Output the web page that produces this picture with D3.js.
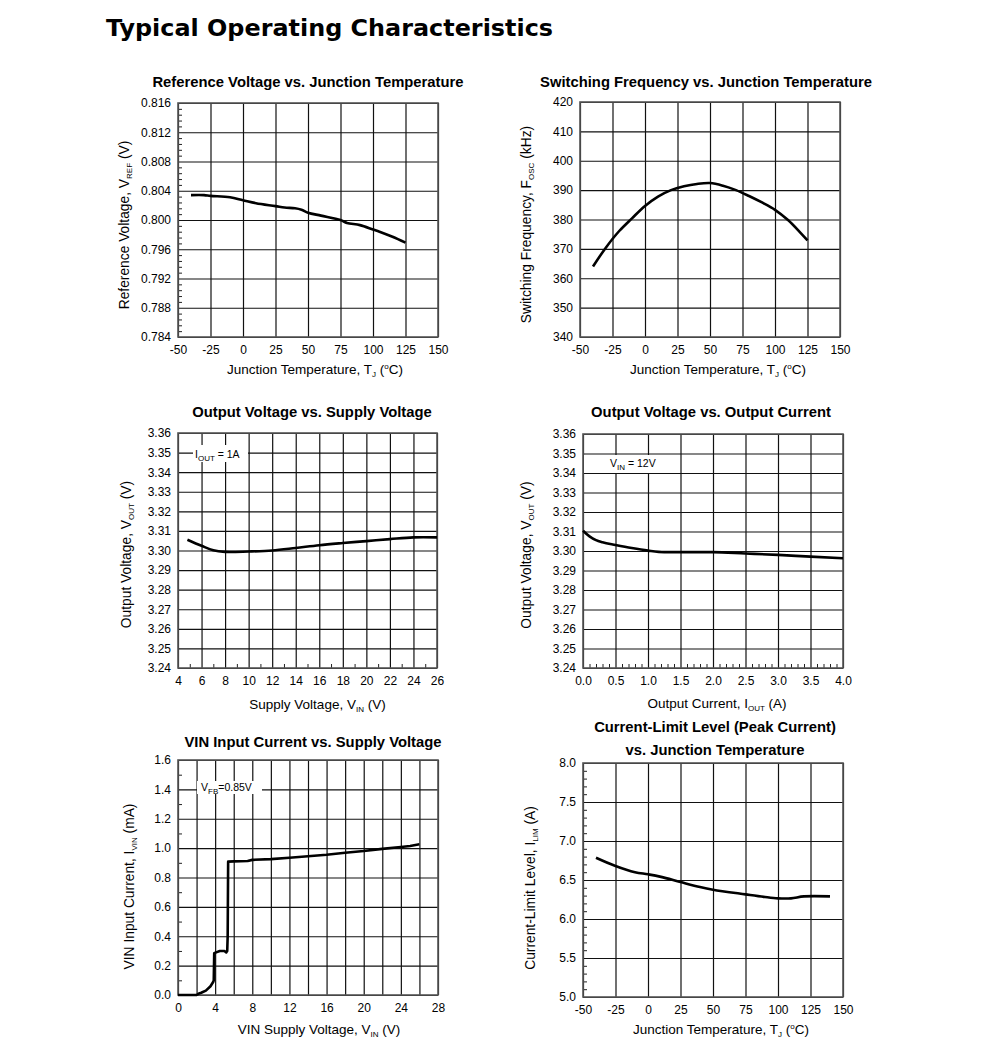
<!DOCTYPE html>
<html>
<head>
<meta charset="utf-8">
<script src="https://cdn.jsdelivr.net/npm/d3@7"></script>
<style>
  html, body { margin: 0; padding: 0; background: #fff; }
  svg { display: block; }
  text { font-family: "Liberation Sans", Arial, sans-serif; fill: #000; }
</style>
</head>
<body>
<svg id="chart" width="991" height="1051"></svg>
<script>
// ---------------- DATA ----------------
const tempTicks = [-50, -25, 0, 25, 50, 75, 100, 125, 150];

// Panel 1: Reference voltage vs junction temperature
const refTemp = [-40, -30, -25, -10, 0, 10, 25, 32, 40, 45, 50, 60, 75, 80, 90, 100, 105, 115, 125];
const refVolt = [0.8034, 0.8034, 0.8033, 0.8031, 0.8027, 0.8023, 0.8019, 0.8017, 0.8016, 0.8014, 0.8010, 0.8006, 0.8000, 0.7996, 0.7993, 0.7987, 0.7984, 0.7977, 0.7969];
const refVTicks = [0.784, 0.788, 0.792, 0.796, 0.800, 0.804, 0.808, 0.812, 0.816];

// Panel 2: Switching frequency vs junction temperature
const fsTemp = [-40, -30, -20, -10, 0, 10, 20, 30, 40, 50, 60, 70, 80, 90, 100, 110, 120, 125];
const fsFreq = [364.0, 370.5, 376.0, 380.4, 384.6, 387.8, 390.0, 391.3, 392.1, 392.4, 391.5, 390.0, 388.0, 385.8, 383.3, 379.8, 375.3, 372.9];
const fsTicks = [340, 350, 360, 370, 380, 390, 400, 410, 420];

// Panel 3: Output voltage vs supply voltage
const vsVin = [4.8, 6, 7, 8, 10, 12, 14, 16, 18, 20, 22, 24, 26];
const vsVout = [3.3055, 3.3024, 3.3001, 3.2993, 3.2995, 3.3000, 3.3013, 3.3027, 3.3038, 3.3048, 3.3058, 3.3067, 3.3067];
const vinTicks = [4, 6, 8, 10, 12, 14, 16, 18, 20, 22, 24, 26];
const voutTicks = [3.24, 3.25, 3.26, 3.27, 3.28, 3.29, 3.30, 3.31, 3.32, 3.33, 3.34, 3.35, 3.36];

// Panel 4: Output voltage vs output current
const ocIout = [0, 0.1, 0.2, 0.3, 0.5, 0.75, 1.0, 1.25, 1.5, 2.0, 2.5, 3.0, 3.5, 4.0];
const ocVout = [3.3104, 3.3075, 3.3056, 3.3045, 3.3031, 3.3015, 3.3002, 3.2994, 3.2994, 3.2994, 3.2987, 3.2980, 3.2971, 3.2963];
const ioutTicks = [0, 0.5, 1.0, 1.5, 2.0, 2.5, 3.0, 3.5, 4.0];

// Panel 5: VIN input current vs supply voltage
const icVin = [0, 2.0, 2.2, 2.5, 3.0, 3.5, 3.8, 3.85, 3.9, 4.1, 4.5, 5.0, 5.2, 5.3, 5.35, 5.4, 6, 7.5, 8, 10, 12, 14, 16, 18, 20, 22, 24, 25, 26];
const icIin = [0, 0, 0.008, 0.015, 0.03, 0.06, 0.09, 0.10, 0.284, 0.29, 0.30, 0.30, 0.29, 0.30, 0.40, 0.908, 0.91, 0.912, 0.92, 0.925, 0.935, 0.945, 0.955, 0.968, 0.98, 0.995, 1.008, 1.015, 1.026];
const icGridX = [0, 2, 4, 6, 8, 10, 12, 14, 16, 18, 20, 22, 24, 26, 28];
const icLabelX = [0, 4, 8, 12, 16, 20, 24, 28];
const icTicksY = [0, 0.2, 0.4, 0.6, 0.8, 1.0, 1.2, 1.4, 1.6];

// Panel 6: Current-limit level vs junction temperature
const clTemp = [-40, -25, -10, 0, 10, 25, 40, 50, 75, 90, 100, 110, 120, 140];
const clIlim = [6.786, 6.68, 6.60, 6.573, 6.54, 6.474, 6.41, 6.376, 6.316, 6.282, 6.265, 6.265, 6.29, 6.29];
const clTicks = [5.0, 5.5, 6.0, 6.5, 7.0, 7.5, 8.0];

// ---------------- DRAW ----------------
const svg = d3.select("#chart");

svg.append("text")
  .attr("x", 106).attr("y", 36)
  .attr("textLength", 447).attr("lengthAdjust", "spacingAndGlyphs")
  .style("font-family", "'DejaVu Sans', Verdana, sans-serif")
  .style("font-weight", "bold").style("font-size", "23px")
  .text("Typical Operating Characteristics");

// plain hyphen-minus like the original
const fmt = s => { const f = d3.format(s); return v => f(v).replace("\u2212", "-"); };

// helper to write text with subscript / superscript parts
function richText(sel, parts) {
  parts.forEach(p => {
    const t = sel.append("tspan").text(p.t);
    if (p.sub) t.attr("dy", 3).style("font-size", "8px");
    if (p.sup) t.attr("dy", -5).style("font-size", "8px");
    if (p.back) t.attr("dy", p.back);
  });
}

function panel(cfg) {
  const g = svg.append("g");
  const x = d3.scaleLinear().domain(cfg.xDomain).range([cfg.x0, cfg.x1]);
  const y = d3.scaleLinear().domain(cfg.yDomain).range([cfg.y1, cfg.y0]);
  const w = cfg.x1 - cfg.x0, h = cfg.y1 - cfg.y0;

  // gridlines
  g.append("g").attr("transform", `translate(0,${cfg.y1})`)
    .call(d3.axisBottom(x).tickValues(cfg.xGrid).tickSize(-h).tickFormat(""))
    .call(a => a.select(".domain").remove())
    .call(a => a.selectAll("line").attr("stroke", "#111").attr("stroke-width", 1.2));
  g.append("g").attr("transform", `translate(${cfg.x0},0)`)
    .call(d3.axisLeft(y).tickValues(cfg.yGrid).tickSize(-w).tickFormat(""))
    .call(a => a.select(".domain").remove())
    .call(a => a.selectAll("line").attr("stroke", "#111").attr("stroke-width", 1.2));

  // minor ticks
  if (cfg.yMinor) {
    g.append("g").attr("transform", `translate(${cfg.x0},0)`)
      .call(d3.axisRight(y).tickValues(cfg.yMinor).tickSize(4).tickFormat(""))
      .call(a => a.select(".domain").remove())
      .call(a => a.selectAll("line").attr("stroke", "#222"));
  }
  if (cfg.xMinor) {
    g.append("g").attr("transform", `translate(0,${cfg.y1})`)
      .call(d3.axisTop(x).tickValues(cfg.xMinor).tickSize(4).tickFormat(""))
      .call(a => a.select(".domain").remove())
      .call(a => a.selectAll("line").attr("stroke", "#222"));
  }

  // frame
  g.append("rect").attr("x", cfg.x0).attr("y", cfg.y0).attr("width", w).attr("height", h)
    .attr("fill", "none").attr("stroke", "#555").attr("stroke-width", 1.6);

  // annotation box
  if (cfg.note) {
    const n = cfg.note;
    g.append("rect").attr("x", n.bx).attr("y", n.by).attr("width", n.bw).attr("height", n.bh).attr("fill", "#fff");
    const t = g.append("text").attr("x", n.tx).attr("y", n.ty).style("font-size", "10.5px");
    richText(t, n.parts);
  }

  // tick labels
  g.append("g").attr("transform", `translate(0,${cfg.y1})`)
    .call(d3.axisBottom(x).tickValues(cfg.xLabels).tickSize(0).tickPadding(8).tickFormat(cfg.xFmt))
    .call(a => a.select(".domain").remove())
    .call(a => a.selectAll("text").style("font-size", "12px").style("font-family", "'Liberation Sans', Arial, sans-serif").attr("fill", "#000"));
  g.append("g").attr("transform", `translate(${cfg.x0},0)`)
    .call(d3.axisLeft(y).tickValues(cfg.yLabels).tickSize(0).tickPadding(7).tickFormat(cfg.yFmt))
    .call(a => a.select(".domain").remove())
    .call(a => a.selectAll("text").style("font-size", "12px").style("font-family", "'Liberation Sans', Arial, sans-serif").attr("fill", "#000"));

  // data line
  const pts = cfg.xs.map((v, i) => [v, cfg.ys[i]]);
  const line = d3.line().x(d => x(d[0])).y(d => y(d[1]));
  if (cfg.curve) line.curve(cfg.curve);
  g.append("path").datum(pts).attr("d", line)
    .attr("fill", "none").attr("stroke", "#000").attr("stroke-width", 2.6)
    .attr("stroke-linejoin", "round");

  // titles
  cfg.title.forEach(tt => {
    g.append("text").attr("x", tt.x).attr("y", tt.y).attr("text-anchor", "middle")
      .style("font-weight", "bold").style("font-size", "14.8px").text(tt.t);
  });
  const xt = g.append("text").attr("x", (cfg.x0 + cfg.x1) / 2 + cfg.xTitleDx).attr("y", cfg.y1 + cfg.xTitleDy)
    .attr("text-anchor", "middle").style("font-size", "13.5px");
  richText(xt, cfg.xTitle);
  const yt = g.append("text")
    .attr("transform", `translate(${cfg.yTitleX},${(cfg.y0 + cfg.y1) / 2 + cfg.yTitleDy}) rotate(-90)`)
    .attr("text-anchor", "middle").style("font-size", "13.8px");
  richText(yt, cfg.yTitle);
}

function minorBetween(ticks, n) {
  const out = [];
  for (let i = 0; i < ticks.length - 1; i++) {
    const a = ticks[i], b = ticks[i + 1];
    for (let k = 1; k < n; k++) out.push(a + (b - a) * k / n);
  }
  return out;
}

const tjTitle = [{t: "Junction Temperature, T"}, {t: "J", sub: true}, {t: " (", back: -3}, {t: "o", sup: true}, {t: "C)", back: 5}];

panel({
  x0: 178, x1: 438, y0: 103, y1: 337,
  xDomain: [-50, 150], yDomain: [0.784, 0.816],
  xGrid: tempTicks, yGrid: refVTicks, xLabels: tempTicks, yLabels: refVTicks,
  yMinor: minorBetween(refVTicks, 5),
  xFmt: fmt("d"), yFmt: fmt(".3f"),
  xs: refTemp, ys: refVolt, curve: d3.curveCatmullRom,
  title: [{t: "Reference Voltage vs. Junction Temperature", x: 308, y: 87}],
  xTitle: tjTitle, xTitleDy: 37, xTitleDx: 7,
  yTitle: [{t: "Reference Voltage, V"}, {t: "REF", sub: true}, {t: " (V)", back: -3}], yTitleX: 129, yTitleDy: 5
});

panel({
  x0: 580, x1: 840, y0: 102, y1: 337,
  xDomain: [-50, 150], yDomain: [340, 420],
  xGrid: tempTicks, yGrid: fsTicks, xLabels: tempTicks, yLabels: fsTicks,
  xFmt: fmt("d"), yFmt: fmt("d"),
  xs: fsTemp, ys: fsFreq, curve: d3.curveCatmullRom,
  title: [{t: "Switching Frequency vs. Junction Temperature", x: 706, y: 87}],
  xTitle: tjTitle, xTitleDy: 37, xTitleDx: 8,
  yTitle: [{t: "Switching Frequency, F"}, {t: "OSC", sub: true}, {t: "  (kHz)", back: -3}], yTitleX: 531, yTitleDy: 5
});

panel({
  x0: 178, x1: 437, y0: 433, y1: 668,
  xDomain: [4, 26], yDomain: [3.24, 3.36],
  xGrid: vinTicks, yGrid: voutTicks, xLabels: vinTicks, yLabels: voutTicks,
  xMinor: minorBetween(vinTicks, 2),
  xFmt: fmt("d"), yFmt: fmt(".2f"),
  xs: vsVin, ys: vsVout, curve: d3.curveCatmullRom,
  note: {bx: 193, by: 445, bw: 55, bh: 17, tx: 195, ty: 458,
         parts: [{t: "I"}, {t: "OUT", sub: true}, {t: " = 1A", back: -3}]},
  title: [{t: "Output Voltage vs. Supply Voltage", x: 312, y: 417}],
  xTitle: [{t: "Supply Voltage, V"}, {t: "IN", sub: true}, {t: " (V)", back: -3}], xTitleDy: 41, xTitleDx: 10,
  yTitle: [{t: "Output Voltage, V"}, {t: "OUT", sub: true}, {t: " (V)", back: -3}], yTitleX: 131, yTitleDy: 4
});

panel({
  x0: 583, x1: 843, y0: 434, y1: 668,
  xDomain: [0, 4], yDomain: [3.24, 3.36],
  xGrid: ioutTicks, yGrid: voutTicks, xLabels: ioutTicks, yLabels: voutTicks,
  xMinor: minorBetween(ioutTicks, 5),
  xFmt: fmt(".1f"), yFmt: fmt(".2f"),
  xs: ocIout, ys: ocVout, curve: d3.curveMonotoneX,
  note: {bx: 584, by: 455, bw: 94, bh: 18, tx: 610, ty: 467,
         parts: [{t: "V"}, {t: "IN", sub: true}, {t: " = 12V", back: -3}]},
  title: [{t: "Output Voltage vs. Output Current", x: 711, y: 417}],
  xTitle: [{t: "Output Current, I"}, {t: "OUT", sub: true}, {t: " (A)", back: -3}], xTitleDy: 40, xTitleDx: 4,
  yTitle: [{t: "Output Voltage, V"}, {t: "OUT", sub: true}, {t: " (V)", back: -3}], yTitleX: 531, yTitleDy: 4
});

panel({
  x0: 178, x1: 438, y0: 760, y1: 995,
  xDomain: [0, 28], yDomain: [0, 1.6],
  xGrid: icGridX, yGrid: icTicksY, xLabels: icLabelX, yLabels: icTicksY,
  yMinor: minorBetween(icTicksY, 2),
  xFmt: fmt("d"), yFmt: fmt(".1f"),
  xs: icVin, ys: icIin,
  note: {bx: 197, by: 781, bw: 65, bh: 13, tx: 201, ty: 791,
         parts: [{t: "V"}, {t: "FB", sub: true}, {t: "=0.85V", back: -3}]},
  title: [{t: "VIN Input Current vs. Supply Voltage", x: 313, y: 747}],
  xTitle: [{t: "VIN Supply Voltage, V"}, {t: "IN", sub: true}, {t: " (V)", back: -3}], xTitleDy: 39, xTitleDx: 11,
  yTitle: [{t: "VIN Input Current, I"}, {t: "VIN", sub: true}, {t: " (mA)", back: -3}], yTitleX: 134, yTitleDy: 9
});

panel({
  x0: 583, x1: 843, y0: 763, y1: 997,
  xDomain: [-50, 150], yDomain: [5.0, 8.0],
  xGrid: tempTicks, yGrid: clTicks, xLabels: tempTicks, yLabels: clTicks,
  yMinor: minorBetween(clTicks, 5),
  xFmt: fmt("d"), yFmt: fmt(".1f"),
  xs: clTemp, ys: clIlim, curve: d3.curveCatmullRom,
  title: [{t: "Current-Limit Level (Peak Current)", x: 715, y: 732}, {t: "vs. Junction Temperature", x: 715, y: 755}],
  xTitle: tjTitle, xTitleDy: 37, xTitleDx: 8,
  yTitle: [{t: "Current-Limit Level, I"}, {t: "LIM", sub: true}, {t: " (A)", back: -3}], yTitleX: 535, yTitleDy: 8
});
</script>
</body>
</html>
